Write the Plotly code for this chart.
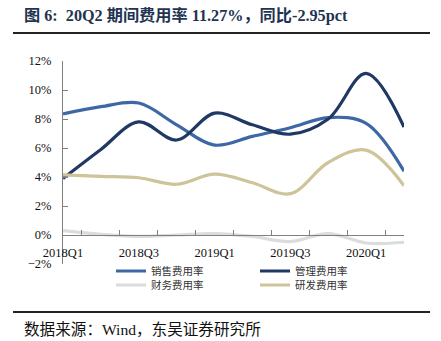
import plotly.graph_objects as go

quarters = ["2018Q1", "2018Q2", "2018Q3", "2018Q4", "2019Q1",
            "2019Q2", "2019Q3", "2019Q4", "2020Q1", "2020Q2"]
sales_rate = [8.35, 8.85, 9.1, 7.6, 6.2, 6.8, 7.4, 8.1, 7.7, 4.4]
admin_rate = [3.9, 5.9, 7.8, 6.55, 8.4, 7.6, 6.95, 8.0, 11.15, 7.45]
finance_rate = [0.3, 0.05, -0.1, 0.0, 0.1, -0.1, -0.45, 0.1, -0.55, -0.5]
rd_rate = [4.15, 4.05, 3.95, 3.5, 4.2, 3.6, 2.85, 5.0, 5.85, 3.4]
tick_labels = [q if i % 2 == 0 else "" for i, q in enumerate(quarters)]

W, H = 441, 341
ML, MR, MT, MB = 63, 37, 61, 77
PW = W - ML - MR
PH = H - MT - MB


def px_x(px):
    return (px - ML) / PW


def px_y(py):
    return (H - MB - py) / PH


serif = "Liberation Serif, Noto Sans CJK SC, serif"
cjk = "Noto Sans CJK SC, sans-serif"

fig = go.Figure()
series = [
    ("销售费用率", sales_rate, "#3d68a3", "legend", 111, 271),
    ("管理费用率", admin_rate, "#1f3864", "legend2", 255, 271),
    ("财务费用率", finance_rate, "#dcdcdc", "legend3", 111, 285),
    ("研发费用率", rd_rate, "#cdc49a", "legend4", 255, 285),
]
legends = {}
for name, vals, color, lg, lx, ly in series:
    fig.add_trace(go.Scatter(
        x=quarters, y=vals, name=name, mode="lines",
        line=dict(color=color, width=3.2, shape="spline", smoothing=1.0),
        legend=lg,
    ))
    legends[lg] = dict(
        x=px_x(lx), y=px_y(ly), orientation="h",
        xanchor="left", yanchor="middle",
        font=dict(family=cjk, size=10.5, color="#333333"),
        itemwidth=30, bgcolor="rgba(0,0,0,0)", borderwidth=0,
    )

zero_pos = (0 - (-2)) / (12 - (-2))

fig.update_layout(
    width=W, height=H,
    margin=dict(l=ML, r=MR, t=MT, b=MB, pad=0),
    paper_bgcolor="white", plot_bgcolor="white",
    showlegend=True,
    **legends,
    xaxis=dict(
        type="category", tickmode="array", tickvals=quarters, ticktext=tick_labels,
        tickson="boundaries", ticks="inside", ticklen=5, tickcolor="#808080",
        tickangle=0,
        showline=True, linecolor="#808080", linewidth=1,
        showgrid=False, zeroline=False,
        anchor="free", position=zero_pos,
        tickfont=dict(family=serif, size=12.5, color="#111111"),
        ticklabelstandoff=6,
    ),
    yaxis=dict(
        range=[-2, 12], dtick=2, ticksuffix="%",
        ticks="inside", ticklen=5, tickcolor="#808080",
        showline=True, linecolor="#808080", linewidth=1,
        showgrid=False, zeroline=False,
        tickfont=dict(family=serif, size=12.5, color="#111111"),
        ticklabelstandoff=8,
    ),
    annotations=[
        dict(text="<b>图 6:  20Q2 期间费用率 11.27%，同比-2.95pct</b>",
             xref="paper", yref="paper", x=px_x(22), y=px_y(15),
             xanchor="left", yanchor="middle", showarrow=False,
             font=dict(family=serif, size=16.2, color="#1f3450")),
        dict(text="数据来源：Wind，东吴证券研究所",
             xref="paper", yref="paper", x=px_x(22), y=px_y(329),
             xanchor="left", yanchor="middle", showarrow=False,
             font=dict(family=serif, size=15.6, color="#111111")),
    ],
    shapes=[
        dict(type="line", xref="paper", yref="paper",
             x0=px_x(13), x1=px_x(430), y0=px_y(33), y1=px_y(33),
             line=dict(color="#222222", width=2)),
        dict(type="line", xref="paper", yref="paper",
             x0=px_x(13), x1=px_x(430), y0=px_y(312), y1=px_y(312),
             line=dict(color="#222222", width=2)),
    ],
)

fig.write_html("out.html")
